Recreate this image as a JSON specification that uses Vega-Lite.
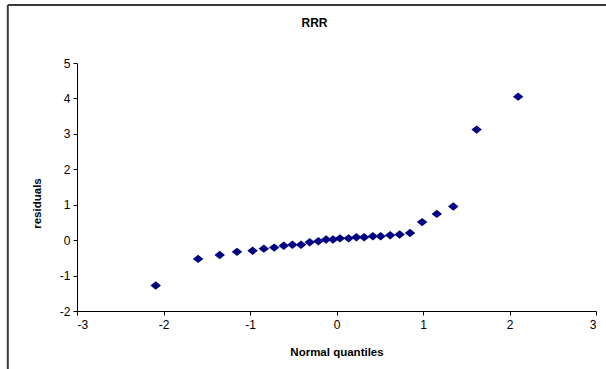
{
  "$schema": "https://vega.github.io/schema/vega-lite/v6.json",
  "width": 519,
  "height": 248,
  "autosize": "none",
  "padding": {"left": 77, "top": 63, "right": 10, "bottom": 58},
  "background": "white",
  "title": {"text": "RRR", "font": "Liberation Sans", "fontSize": 12, "fontWeight": "bold", "color": "black", "anchor": "middle", "dx": -22, "offset": 0, "dy": 31, "baseline": "middle"},
  "config": {
    "view": {"stroke": null},
    "axis": {
      "grid": false, "domainColor": "#000000", "tickColor": "#000000", "tickSize": 4,
      "labelFont": "Liberation Sans", "labelFontSize": 12, "labelColor": "#000000", "labelOverlap": false,
      "titleFont": "Liberation Sans", "titleFontSize": 11.5, "titleFontWeight": "bold", "titleColor": "#000000"
    }
  },
  "datasets": {
    "frame": [
      {"x1": -3.8, "y1": 6.64, "x2": -3.8, "y2": -3.8},
      {"x1": -3.8, "y1": 6.64, "x2": 3.2, "y2": 6.64}
    ],
    "qq": [
      {"q": -2.09, "r": -1.28},
      {"q": -1.60, "r": -0.53},
      {"q": -1.35, "r": -0.42},
      {"q": -1.15, "r": -0.33},
      {"q": -0.97, "r": -0.30},
      {"q": -0.84, "r": -0.24},
      {"q": -0.72, "r": -0.21},
      {"q": -0.61, "r": -0.16},
      {"q": -0.51, "r": -0.13},
      {"q": -0.41, "r": -0.13},
      {"q": -0.31, "r": -0.06},
      {"q": -0.21, "r": -0.03},
      {"q": -0.12, "r": 0.02},
      {"q": -0.04, "r": 0.02},
      {"q": 0.04, "r": 0.05},
      {"q": 0.14, "r": 0.05},
      {"q": 0.23, "r": 0.08},
      {"q": 0.32, "r": 0.08},
      {"q": 0.42, "r": 0.11},
      {"q": 0.51, "r": 0.11},
      {"q": 0.62, "r": 0.14},
      {"q": 0.73, "r": 0.16},
      {"q": 0.85, "r": 0.20},
      {"q": 0.99, "r": 0.51},
      {"q": 1.16, "r": 0.74},
      {"q": 1.35, "r": 0.95},
      {"q": 1.62, "r": 3.12},
      {"q": 2.10, "r": 4.05}
    ]
  },
  "layer": [
    {
      "data": {"name": "qq"},
      "mark": {"type": "point", "shape": "M-1,0L0,-0.8L1,0L0,0.8Z", "filled": true, "color": "#000080", "size": 110, "opacity": 1},
      "encoding": {
        "x": {
          "field": "q", "type": "quantitative",
          "scale": {"domain": [-3, 3], "nice": false, "zero": false},
          "axis": {"title": "Normal quantiles", "values": [-3, -2, -1, 0, 1, 2, 3], "labelExpr": "'' + datum.value", "labelPadding": 4, "titleBaseline": "middle", "titleY": 41}
        },
        "y": {
          "field": "r", "type": "quantitative",
          "scale": {"domain": [-2, 5], "nice": false, "zero": false},
          "axis": {"title": "residuals", "values": [-2, -1, 0, 1, 2, 3, 4, 5], "labelExpr": "'' + datum.value", "labelPadding": 3, "titleAngle": 270, "titleBaseline": "middle", "titleX": -40, "titleY": 140}
        }
      }
    },
    {
      "data": {"name": "frame"},
      "mark": {"type": "rule", "stroke": "#3a3a3a", "strokeWidth": 2, "clip": false},
      "encoding": {
        "x": {
          "field": "x1", "type": "quantitative",
          "scale": {"domain": [-3, 3], "nice": false, "zero": false},
          "axis": {"title": "Normal quantiles", "values": [-3, -2, -1, 0, 1, 2, 3], "labelExpr": "'' + datum.value", "labelPadding": 4, "titleBaseline": "middle", "titleY": 41}
        },
        "y": {
          "field": "y1", "type": "quantitative",
          "scale": {"domain": [-2, 5], "nice": false, "zero": false},
          "axis": {"title": "residuals", "values": [-2, -1, 0, 1, 2, 3, 4, 5], "labelExpr": "'' + datum.value", "labelPadding": 3, "titleAngle": 270, "titleBaseline": "middle", "titleX": -40, "titleY": 140}
        },
        "x2": {"field": "x2"},
        "y2": {"field": "y2"}
      }
    }
  ]
}
